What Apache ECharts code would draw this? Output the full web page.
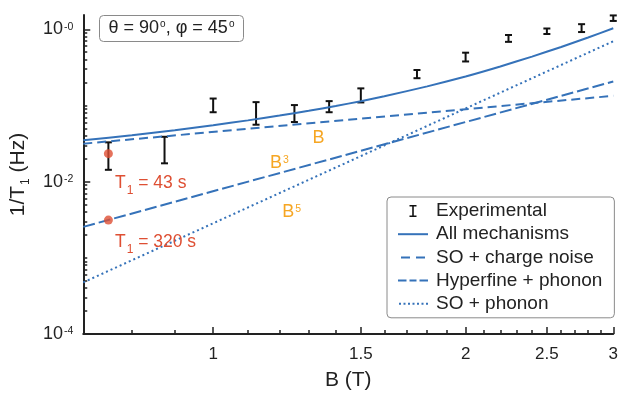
<!DOCTYPE html>
<html><head><meta charset="utf-8">
<script src="https://cdn.jsdelivr.net/npm/echarts@6/dist/echarts.min.js"></script>
<style>html,body{margin:0;padding:0;background:#fff}#c{width:621px;height:396px}</style>
</head><body><div id="c"></div>
<script>
// ---------- data ----------
const expB    = [0.75, 0.875, 1.0, 1.125, 1.25, 1.375, 1.5, 1.75, 2.0, 2.25, 2.5, 2.75, 3.0];
const expLow  = [0.0143, 0.0174, 0.0815, 0.0559, 0.0606, 0.0815, 0.1096, 0.228, 0.378, 0.684, 0.867, 0.920, 1.287];
const expHigh = [0.0328, 0.0388, 0.1233, 0.1106, 0.1012, 0.114, 0.1676, 0.292, 0.493, 0.842, 1.024, 1.167, 1.52];

const totalB    = [0.7, 0.8, 0.9, 1.0, 1.1, 1.2, 1.3, 1.4, 1.5, 1.6, 1.8, 2.0, 2.2, 2.4, 2.6, 2.8, 3.0];
const totalRate = [0.0350, 0.0405, 0.0473, 0.0550, 0.0637, 0.0736, 0.0851, 0.0983, 0.1138, 0.132, 0.178, 0.240, 0.325, 0.438, 0.586, 0.780, 1.03];

const soChargeB = [0.7, 3.0];
const soChargeRate = [0.0315, 0.1337];
const hfPhononB = [0.7, 3.0];
const hfPhononRate = [0.00255, 0.206];
const soPhononB = [0.7, 3.0];
const soPhononRate = [0.000476, 0.696];

const markedB = [0.75, 0.75];
const markedRate = [0.0233, 0.003125];

const xTickValues = [1, 1.5, 2, 2.5, 3];
const xTickLabels = ['1', '1.5', '2', '2.5', '3'];
const xMinorTicks = [0.8, 0.9, 1.1, 1.2, 1.3, 1.4, 1.6, 1.7, 1.8, 1.9, 2.1, 2.2, 2.3, 2.4, 2.6, 2.7, 2.8, 2.9];
const yTickValues = [1e-4, 1e-2, 1];
const yTickLabels = ['-4', '-2', '-0'];
const yMinorTicks = [];
for (let d = -4; d <= 0; d++) for (let m = 1; m <= 9; m++) {
  const v = m * Math.pow(10, d);
  if (v < 1.54 && !(m === 1 && d % 2 === 0)) yMinorTicks.push(+v.toPrecision(3));
}

// ---------- styling ----------
const FONT = '"Liberation Sans", Arial, Helvetica, sans-serif';
const BLUE = '#3572b9', RED = '#de4f33', ORANGE = '#f6a623', INK = '#222222';

const zip = (xs, ys) => xs.map((x, i) => [x, ys[i]]);
const xLabelFor = v => { const i = xTickValues.findIndex(t => Math.abs(t - v) < 1e-6); return i >= 0 ? xTickLabels[i] : ''; };
const yLabelFor = v => { const i = yTickValues.findIndex(t => Math.abs(Math.log10(t) - Math.log10(v)) < 1e-6); return i >= 0 ? '{b|10}{s|' + yTickLabels[i] + '}' : ''; };

// legend icons (30 x 2 boxes)
const ICON_SOLID = 'path://M0,0H30V2H0Z';
const ICON_DASH2 = 'path://M0,0H0.01V0.01H0ZM29.99,1.99H30V2H29.99ZM3,0H12V2H3ZM18,0H27V2H18Z';
const ICON_DASH3 = 'path://M0,0H8.5V2H0ZM11.5,0H18.5V2H11.5ZM21.5,0H30V2H21.5Z';
const ICON_DOTS  = 'path://M0,0H0.01V0.01H0ZM29.99,1.99H30V2H29.99ZM1,0H3V2H1ZM5.5,0H7.5V2H5.5ZM10,0H12V2H10ZM14.5,0H16.5V2H14.5ZM19,0H21V2H19ZM23.5,0H25.5V2H23.5ZM28,0H30V2H28Z';

const chart = echarts.init(document.getElementById('c'), null, {renderer: 'canvas', width: 621, height: 396});

const XMIN = 0.7, XMAX = 3, YMIN = 1e-4, YMAX = 1.54;

const option = {
  animation: false,
  backgroundColor: '#fff',
  textStyle: {fontFamily: FONT},
  grid: {left: 83, right: 7, top: 15, bottom: 55.5},
  xAxis: [
    {
      type: 'log', logBase: 10, min: XMIN, max: XMAX, position: 'bottom',
      axisLine: {show: true, onZero: false, lineStyle: {color: INK, width: 2}},
      axisTick: {show: true, inside: true, length: 7, customValues: xTickValues, lineStyle: {color: INK, width: 1.5}},
      axisLabel: {show: true, customValues: xTickValues, formatter: xLabelFor, fontSize: 17, color: INK, margin: 12, fontFamily: FONT},
      splitLine: {show: false}, minorTick: {show: false},
      name: 'B (T)', nameLocation: 'middle', nameGap: 36,
      nameTextStyle: {fontSize: 21, color: INK, fontFamily: FONT}
    },
    {
      type: 'log', logBase: 10, min: XMIN, max: XMAX, position: 'bottom',
      axisLine: {show: false, onZero: false},
      axisTick: {show: true, inside: true, length: 4, customValues: xMinorTicks, lineStyle: {color: INK, width: 1.5}},
      axisLabel: {show: false}, splitLine: {show: false}
    }
  ],
  yAxis: [
    {
      type: 'log', logBase: 10, min: YMIN, max: YMAX, position: 'left',
      axisLine: {show: true, onZero: false, lineStyle: {color: INK, width: 2}},
      axisTick: {show: true, inside: true, length: 7, customValues: yTickValues, lineStyle: {color: INK, width: 1.5}},
      axisLabel: {
        show: true, customValues: yTickValues, formatter: yLabelFor, margin: 10,
        rich: {
          b: {fontSize: 18, color: INK, fontFamily: FONT, verticalAlign: 'middle'},
          s: {fontSize: 10.5, color: INK, fontFamily: FONT, verticalAlign: 'top', padding: [1, 0, 0, 1]}
        }
      },
      splitLine: {show: false}, minorTick: {show: false},
      name: '{n|1/T}{sub|1}{n| (Hz)}', nameLocation: 'middle', nameGap: 48,
      nameTextStyle: {
        fontSize: 21, color: INK, fontFamily: FONT,
        rich: {
          n: {fontSize: 21, color: INK, fontFamily: FONT, verticalAlign: 'middle'},
          sub: {fontSize: 12, color: INK, fontFamily: FONT, verticalAlign: 'top', padding: [15, 0, 0, 1]}
        }
      }
    },
    {
      type: 'log', logBase: 10, min: YMIN, max: YMAX, position: 'left',
      axisLine: {show: false, onZero: false},
      axisTick: {show: true, inside: true, length: 4, customValues: yMinorTicks, lineStyle: {color: INK, width: 1.5}},
      axisLabel: {show: false}, splitLine: {show: false}
    }
  ],
  legend: {
    orient: 'vertical', left: 387, top: 197,
    padding: [4, 12, 4, 11],
    itemWidth: 30, itemHeight: 12, itemGap: 3.2,
    backgroundColor: '#fff', borderColor: '#8a8a8a', borderWidth: 1, borderRadius: 4,
    textStyle: {fontSize: 19, color: INK, fontFamily: FONT, lineHeight: 20, padding: [0, 0, 0, 3]},
    data: [
      {name: 'Experimental', icon: 'path://M0,0H7V1.6H4.3V10.4H7V12H0V10.4H2.7V1.6H0Z', itemStyle: {color: '#111'}},
      {name: 'All mechanisms', icon: ICON_SOLID, itemStyle: {color: BLUE}},
      {name: 'SO + charge noise', icon: ICON_DASH2, itemStyle: {color: BLUE}},
      {name: 'Hyperfine + phonon', icon: ICON_DASH3, itemStyle: {color: BLUE}},
      {name: 'SO + phonon', icon: ICON_DOTS, itemStyle: {color: BLUE}}
    ]
  },
  series: [
    {
      name: 'Experimental', type: 'custom', xAxisIndex: 0, yAxisIndex: 0,
      data: expB.map((b, i) => [b, expLow[i], expHigh[i]]),
      encode: {x: 0, y: [1, 2]},
      itemStyle: {color: '#111'},
      z: 3,
      renderItem: function (params, api) {
        const lo = api.coord([api.value(0), api.value(1)]);
        const hi = api.coord([api.value(0), api.value(2)]);
        const w = 3.5;
        const st = {stroke: '#111', lineWidth: 2};
        return {
          type: 'group',
          children: [
            {type: 'line', shape: {x1: lo[0], y1: lo[1], x2: hi[0], y2: hi[1]}, style: st},
            {type: 'line', shape: {x1: lo[0] - w, y1: lo[1], x2: lo[0] + w, y2: lo[1]}, style: st},
            {type: 'line', shape: {x1: hi[0] - w, y1: hi[1], x2: hi[0] + w, y2: hi[1]}, style: st}
          ]
        };
      }
    },
    {
      name: 'All mechanisms', type: 'line', xAxisIndex: 0, yAxisIndex: 0,
      data: zip(totalB, totalRate), symbol: 'none', showSymbol: false, smooth: 0.2,
      lineStyle: {color: BLUE, width: 2}, itemStyle: {color: BLUE}, z: 4
    },
    {
      name: 'SO + charge noise', type: 'line', xAxisIndex: 0, yAxisIndex: 0,
      data: zip(soChargeB, soChargeRate), symbol: 'none', showSymbol: false,
      lineStyle: {color: BLUE, width: 2, type: [9, 5]}, itemStyle: {color: BLUE}, z: 4
    },
    {
      name: 'Hyperfine + phonon', type: 'line', xAxisIndex: 0, yAxisIndex: 0,
      data: zip(hfPhononB, hfPhononRate), symbol: 'none', showSymbol: false,
      lineStyle: {color: BLUE, width: 2, type: [12, 4]}, itemStyle: {color: BLUE}, z: 4
    },
    {
      name: 'SO + phonon', type: 'line', xAxisIndex: 0, yAxisIndex: 0,
      data: zip(soPhononB, soPhononRate), symbol: 'none', showSymbol: false,
      lineStyle: {color: BLUE, width: 2, type: [2, 3]}, itemStyle: {color: BLUE}, z: 4
    },
    {
      name: 'T1 points', type: 'scatter', xAxisIndex: 0, yAxisIndex: 0,
      data: zip(markedB, markedRate), symbol: 'circle', symbolSize: 9,
      itemStyle: {color: RED}, z: 6
    }
  ],
  graphic: [
    {type: 'rect', shape: {x: 99.5, y: 15.5, width: 144, height: 26, r: 4},
     style: {fill: '#fff', stroke: '#8a8a8a', lineWidth: 1}, z: 20},
    {type: 'text', x: 171.5, y: 28.5, z: 21,
     style: {text: '{n|θ = 90}{s|o}{n|, φ = 45}{s|o}', align: 'center', verticalAlign: 'middle',
       rich: {
         n: {fontSize: 18, fontFamily: FONT, fill: INK, verticalAlign: 'middle'},
         s: {fontSize: 10, fontFamily: FONT, fill: INK, verticalAlign: 'top', padding: [0, 0, 0, 1]}
       }}},
    {type: 'text', x: 115, y: 183, z: 21,
     style: {text: '{n|T}{sub|1}{n| = 43 s}', align: 'left', verticalAlign: 'middle',
       rich: {
         n: {fontSize: 17.5, fontFamily: FONT, fill: RED, verticalAlign: 'middle'},
         sub: {fontSize: 12, fontFamily: FONT, fill: RED, verticalAlign: 'top', padding: [15, 0, 0, 1]}
       }}},
    {type: 'text', x: 115, y: 242.5, z: 21,
     style: {text: '{n|T}{sub|1}{n| = 320 s}', align: 'left', verticalAlign: 'middle',
       rich: {
         n: {fontSize: 17.5, fontFamily: FONT, fill: RED, verticalAlign: 'middle'},
         sub: {fontSize: 12, fontFamily: FONT, fill: RED, verticalAlign: 'top', padding: [15, 0, 0, 1]}
       }}},
    {type: 'text', x: 312.5, y: 138, z: 21,
     style: {text: 'B', align: 'left', verticalAlign: 'middle', fontSize: 18, fontFamily: FONT, fill: ORANGE}},
    {type: 'text', x: 270, y: 163.5, z: 21,
     style: {text: '{n|B}{s|3}', align: 'left', verticalAlign: 'middle',
       rich: {
         n: {fontSize: 18, fontFamily: FONT, fill: ORANGE, verticalAlign: 'middle'},
         s: {fontSize: 10.5, fontFamily: FONT, fill: ORANGE, verticalAlign: 'top', padding: [0, 0, 0, 1]}
       }}},
    {type: 'text', x: 282.3, y: 212.3, z: 21,
     style: {text: '{n|B}{s|5}', align: 'left', verticalAlign: 'middle',
       rich: {
         n: {fontSize: 18, fontFamily: FONT, fill: ORANGE, verticalAlign: 'middle'},
         s: {fontSize: 10.5, fontFamily: FONT, fill: ORANGE, verticalAlign: 'top', padding: [0, 0, 0, 1]}
       }}}
  ]
};
chart.setOption(option);
</script>
</body></html>
